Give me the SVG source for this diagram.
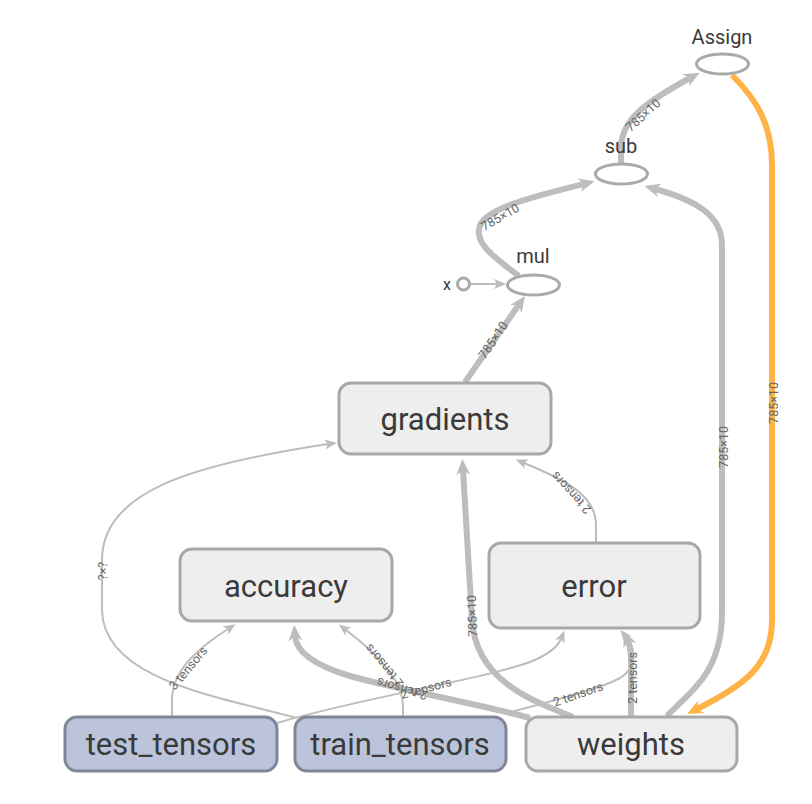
<svg xmlns="http://www.w3.org/2000/svg" width="812" height="804" viewBox="0 0 812 804">
<style>
.e{fill:none;stroke:#bdbdbd}
.thin{stroke-width:2}
.thick{stroke-width:6}
.org{fill:none;stroke:#ffb347;stroke-width:6}
.lbl{font-family:Roboto,"Liberation Sans",sans-serif;font-size:12.5px;fill:#666;text-anchor:middle;dominant-baseline:central}
.box{fill:#eeeeee;stroke:#a8a8a8;stroke-width:3}
.inp{fill:#bbc4db;stroke:#7f8697;stroke-width:3}
.ell{fill:#fff;stroke:#aaaaaa;stroke-width:3}
.nt{font-family:Roboto,"Liberation Sans",sans-serif;font-size:31px;fill:#3a3a3a;text-anchor:middle}
.st{font-family:Roboto,"Liberation Sans",sans-serif;font-size:20px;fill:#3a3a3a;text-anchor:middle}
</style>
<defs>
<marker id="at" markerUnits="userSpaceOnUse" viewBox="0 0 12 10" markerWidth="12" markerHeight="10" refX="3" refY="5" orient="auto"><path d="M0,0 L12,5 L0,10 L3,5 z" fill="#bdbdbd"/></marker>
<marker id="ak" markerUnits="userSpaceOnUse" viewBox="0 0 16 14" markerWidth="16" markerHeight="14" refX="5" refY="7" orient="auto"><path d="M0,0 L16,7 L0,14 L5,7 z" fill="#bdbdbd"/></marker>
<marker id="ao" markerUnits="userSpaceOnUse" viewBox="0 0 16 14" markerWidth="16" markerHeight="14" refX="5" refY="7" orient="auto"><path d="M0,0 L16,7 L0,14 L5,7 z" fill="#ffb347"/></marker>
</defs>
<g id="edges">
<path class="e thick" d="M621,164 L621,148 C621,118 650,100 690,78" marker-end="url(#ak)"/>
<text class="lbl" transform="translate(643,115) rotate(-42)">785×10</text>
<path class="e thick" d="M519,276 C492,256 470,240 482,222 C494,206 540,195 584,184" marker-end="url(#ak)"/>
<text class="lbl" transform="translate(500,217) rotate(-30)">785×10</text>
<path class="e thin" d="M470,284 L497,284" marker-end="url(#at)"/>
<path class="e thick" d="M465,382 L518.7,305" marker-end="url(#ak)"/>
<text class="lbl" transform="translate(493,340) rotate(-56)">785×10</text>
<path class="e thick" d="M667,716 C692,690 722,672 722,612 L722,245 C722,215 695,200 655,189" marker-end="url(#ak)"/>
<text class="lbl" transform="translate(723,447) rotate(-90)">785×10</text>
<path class="org" d="M732,75 C757,100 772,125 772,165 L772,620 C772,665 745,685 697,709" marker-end="url(#ao)"/>
<text class="lbl" transform="translate(773,403) rotate(-90)">785×10</text>
<path class="e thick" d="M573,717 C530,700 476,680 472,620 L463,470" marker-end="url(#ak)"/>
<text class="lbl" transform="translate(472,616) rotate(-92)">785×10</text>
<path class="e thin" d="M596,543 L596,525 C596,495 565,480 524,463" marker-end="url(#at)"/>
<text class="lbl" transform="translate(571,493) rotate(-133)">2 tensors</text>
<path class="e thin" d="M297,718 C220,697 103,680 102,610 L102,560 C102,492 190,465 328,444" marker-end="url(#at)"/>
<text class="lbl" transform="translate(102,571) rotate(-90)">?×?</text>
<path class="e thin" d="M172,717 L172,700 C172,672 195,650 228,629" marker-end="url(#at)"/>
<text class="lbl" transform="translate(188,668) rotate(-50)">3 tensors</text>
<path class="e thin" d="M403,717 L403,706 C403,680 375,652 346,630" marker-end="url(#at)"/>
<text class="lbl" transform="translate(384,666) rotate(-130)">2 tensors</text>
<path class="e thick" d="M530,718 C470,702 400,690 350,676 C310,664 296,650 295,636" marker-end="url(#ak)"/>
<text class="lbl" transform="translate(402,689) rotate(-164)">2 tensors</text>
<path class="e thin" d="M277,723 C360,698 480,680 530,662 C550,654 558,646 561,639" marker-end="url(#at)"/>
<text class="lbl" transform="translate(426,688) rotate(-15)">2 tensors</text>
<path class="e thin" d="M507,713 C555,700 598,690 620,678 C640,665 634,647 626,637" marker-end="url(#at)"/>
<text class="lbl" transform="translate(578,694) rotate(-19)">2 tensors</text>
<path class="e thick" d="M631,717 L631,660 Q631,648 628,641" marker-end="url(#ak)"/>
<text class="lbl" transform="translate(632,678) rotate(-90)">2 tensors</text>
</g>
<g id="Assign"><ellipse class="ell" cx="722.5" cy="64" rx="26" ry="10"/><text class="st" x="722" y="44">Assign</text></g>
<g id="sub"><ellipse class="ell" cx="621.5" cy="174" rx="26" ry="10"/><text class="st" x="621" y="153">sub</text></g>
<g id="mul"><ellipse class="ell" cx="533.5" cy="285" rx="26" ry="10"/><text class="st" x="533" y="263">mul</text></g>
<g id="x"><circle class="ell" cx="463.5" cy="284" r="6"/><text class="st" x="447" y="290" style="font-size:16px">x</text></g>
<g id="gradients"><rect class="box" x="339" y="383" width="212" height="71" rx="12"/><text class="nt" x="445" y="430">gradients</text></g>
<g id="accuracy"><rect class="box" x="180" y="549" width="212" height="72" rx="12"/><text class="nt" x="286" y="597">accuracy</text></g>
<g id="error"><rect class="box" x="489" y="543" width="211" height="85" rx="12"/><text class="nt" x="594" y="597">error</text></g>
<g id="test_tensors"><rect class="inp" x="65" y="717" width="212" height="54" rx="12"/><text class="nt" x="171" y="755">test_tensors</text></g>
<g id="train_tensors"><rect class="inp" x="295" y="717" width="211" height="54" rx="12"/><text class="nt" x="400" y="755">train_tensors</text></g>
<g id="weights"><rect class="box" x="526" y="717" width="211" height="54" rx="12"/><text class="nt" x="631" y="755">weights</text></g>
</svg>
